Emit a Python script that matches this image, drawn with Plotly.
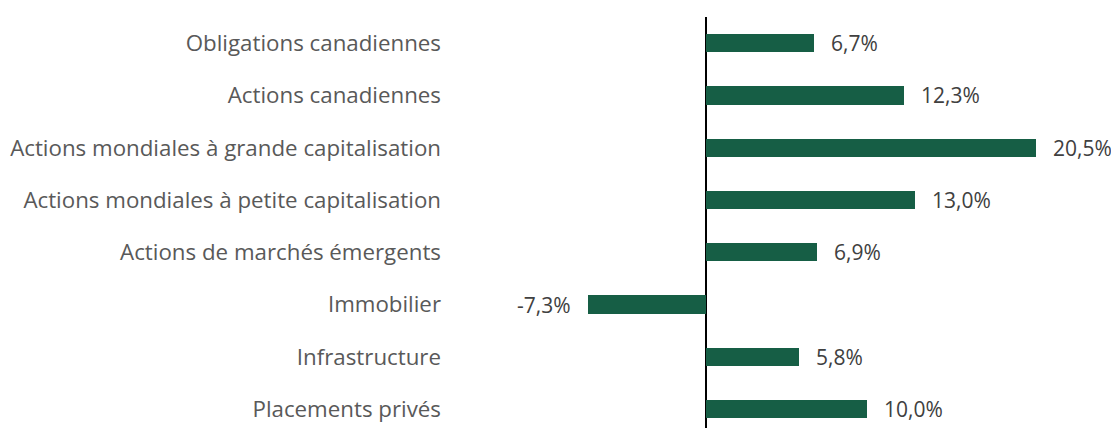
import plotly.graph_objects as go

categories = [
    "Obligations canadiennes",
    "Actions canadiennes",
    "Actions mondiales à grande capitalisation",
    "Actions mondiales à petite capitalisation",
    "Actions de marchés émergents",
    "Immobilier",
    "Infrastructure",
    "Placements privés",
]
returns = [6.7, 12.3, 20.5, 13.0, 6.9, -7.3, 5.8, 10.0]

BAR_COLOR = "#165e45"
FONT = "Open Sans"

fig = go.Figure()
fig.add_trace(go.Bar(
    x=returns,
    y=categories,
    orientation="h",
    marker=dict(color=BAR_COLOR, line=dict(width=0)),
    width=0.35,
    hoverinfo="skip",
))

# value labels, kept a bit away from the bar ends
for cat, v in zip(categories, returns):
    fig.add_annotation(
        x=v, y=cat,
        text=f"{v:.1f}".replace(".", ",") + "%",
        showarrow=False,
        xanchor="left" if v >= 0 else "right",
        xshift=15 if v >= 0 else -15,
        font=dict(family=FONT, size=21, color="#404040"),
    )

# the page body adds an 8px margin, so the figure is 8px smaller than the window
fig.update_layout(
    width=1111,
    height=420,
    margin=dict(l=447, r=0, t=9, b=0),
    plot_bgcolor="white",
    paper_bgcolor="white",
    showlegend=False,
    bargap=0,
    xaxis=dict(
        range=[-15.59, 25.65],
        showticklabels=False,
        showgrid=False,
        zeroline=True,
        zerolinecolor="black",
        zerolinewidth=1.5,
        ticks="",
    ),
    yaxis=dict(
        range=[7.36, -0.5],
        showgrid=False,
        ticks="",
        ticklabelstandoff=13,
        tickfont=dict(family=FONT, size=22.3, color="#595959"),
    ),
)

fig.write_html("out.html")
